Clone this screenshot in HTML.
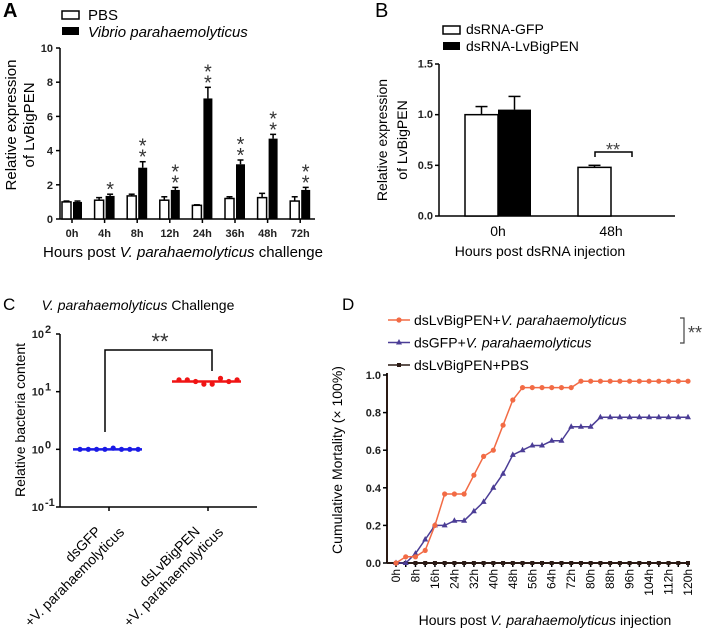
<!DOCTYPE html>
<html><head><meta charset="utf-8">
<style>
html,body{margin:0;padding:0;background:#fff;}
svg{display:block;font-family:"Liberation Sans",Arial,sans-serif;}
.tk{font-size:11px;font-weight:bold;fill:#222;}
</style></head>
<body>
<svg id="fig" width="714" height="632" viewBox="0 0 714 632"></svg>
<script>
// ---- Panel A data ----
const aCats=['0h','4h','8h','12h','24h','36h','48h','72h'];
const aPBS=[1.0,1.1,1.35,1.1,0.8,1.2,1.25,1.05];
const aPBSErr=[0.05,0.15,0.1,0.2,0.03,0.1,0.25,0.25];
const aVP=[1.0,1.35,3.0,1.7,7.05,3.2,4.7,1.7];
const aVPErr=[0.05,0.1,0.35,0.15,0.65,0.25,0.25,0.15];
const aStars=[0,1,2,2,2,2,2,2];
const aTicks=[0,2,4,6,8,10];
// ---- Panel B data ----
const bCats=['0h','48h'];
const bGFP=[1.0,0.48];
const bGFPErr=[0.08,0.02];
const bBig=[1.05,0.0];
const bBigErr=[0.13,0];
const bTicks=[0,0.5,1.0,1.5];
// ---- Panel C data ----
const cGroups=['dsGFP','dsLvBigPEN'];
const cMeans=[1.0,15];
const cGFPPts=[1.0,1.0,1.0,1.0,1.05,1.0,1.0,1.0];
const cBigPts=[16,16,15,13.5,13.5,17,15,16];
const cTickExp=[-1,0,1,2];
// ---- Panel D data ----
const dHours=[0,4,8,12,16,20,24,28,32,36,40,44,48,52,56,60,64,68,72,76,80,84,88,92,96,100,104,108,112,116,120];
const dOrange=[0,0.033,0.033,0.067,0.2,0.367,0.367,0.367,0.467,0.567,0.6,0.733,0.867,0.933,0.933,0.933,0.933,0.933,0.933,0.967,0.967,0.967,0.967,0.967,0.967,0.967,0.967,0.967,0.967,0.967,0.967];
const dBlue=[0,0,0.05,0.125,0.2,0.2,0.225,0.225,0.275,0.325,0.4,0.475,0.575,0.6,0.625,0.625,0.65,0.65,0.725,0.725,0.725,0.775,0.775,0.775,0.775,0.775,0.775,0.775,0.775,0.775,0.775];
const dBlack=[0,0,0,0,0,0,0,0,0,0,0,0,0,0,0,0,0,0,0,0,0,0,0,0,0,0,0,0,0,0,0];
const dTicks=[0,0.2,0.4,0.6,0.8,1.0];

const NS='http://www.w3.org/2000/svg';
const svg=document.getElementById('fig');
function el(tag,attrs,parent,txt){const e=document.createElementNS(NS,tag);for(const k in attrs)e.setAttribute(k,attrs[k]);if(txt!==undefined)e.textContent=txt;(parent||svg).appendChild(e);return e;}
function grp(name){const g=el('g',{});return g;}

// ================= Panel A =================
(function(){
const g=grp('panel-a');
const x0=60,x1=315,yb=219,yt=48;
const y=v=>yb-(v/10)*(yb-yt);
const cx=i=>72+i*32.6;
const bw=9;
el('text',{x:3,y:17,'font-size':20,'font-weight':'bold'},g,'A');
const l1=el('rect',{x:62,y:11,width:17,height:8,fill:'#fff',stroke:'#000','stroke-width':1.5},g);

el('text',{x:88,y:20,'font-size':15},g,'PBS');
const l2=el('rect',{x:62,y:27,width:17,height:8,fill:'#000'},g);

el('text',{x:88,y:37,'font-size':15,'font-style':'italic'},g,'Vibrio parahaemolyticus');
el('line',{x1:x0,y1:yt,x2:x0,y2:yb,stroke:'#000','stroke-width':1.5},g);
el('line',{x1:x0,y1:yb,x2:x1,y2:yb,stroke:'#000','stroke-width':1.5},g);
aTicks.forEach(t=>{el('line',{x1:x0-4,y1:y(t),x2:x0,y2:y(t),stroke:'#000','stroke-width':1.5},g);
 el('text',{x:x0-7,y:y(t)+4,'text-anchor':'end',class:'tk','font-size':12},g,String(t));});
aCats.forEach((c,i)=>{
 const c0=cx(i);
 el('line',{x1:c0,y1:yb,x2:c0,y2:yb+4,stroke:'#000','stroke-width':1.5},g);
 el('text',{x:c0,y:yb+18,'text-anchor':'middle',class:'tk','font-size':12},g,c);
 const p=el('rect',{x:c0-bw-1,y:y(aPBS[i]),width:bw,height:yb-y(aPBS[i]),fill:'#fff',stroke:'#000','stroke-width':1.5},g);
 
 el('line',{x1:c0-bw/2-1,y1:y(aPBS[i]),x2:c0-bw/2-1,y2:y(aPBS[i]+aPBSErr[i]),stroke:'#000','stroke-width':1.5},g);
 el('line',{x1:c0-bw/2-4,y1:y(aPBS[i]+aPBSErr[i]),x2:c0-bw/2+2,y2:y(aPBS[i]+aPBSErr[i]),stroke:'#000','stroke-width':1.5},g);
 const v=el('rect',{x:c0+1,y:y(aVP[i]),width:bw,height:yb-y(aVP[i]),fill:'#000'},g);
 
 const ex=c0+1+bw/2, et=y(aVP[i]+aVPErr[i]);
 el('line',{x1:ex,y1:y(aVP[i]),x2:ex,y2:et,stroke:'#000','stroke-width':1.5},g);
 el('line',{x1:ex-3,y1:et,x2:ex+3,y2:et,stroke:'#000','stroke-width':1.5},g);
 for(let s=0;s<aStars[i];s++) el('text',{x:ex,y:et+2-s*11,'text-anchor':'middle','font-size':20,fill:'#333'},g,'*');
});
const yl=el('text',{transform:'translate(16,125) rotate(-90)','text-anchor':'middle','font-size':15},g);
el('tspan',{x:0,dy:0},yl,'Relative expression');el('tspan',{x:0,dy:18},yl,'of LvBigPEN');
const xl=el('text',{x:183,y:257,'text-anchor':'middle','font-size':15},g);
el('tspan',{},xl,'Hours post ');el('tspan',{'font-style':'italic'},xl,'V. parahaemolyticus');el('tspan',{},xl,' challenge');
})();

// ================= Panel B =================
(function(){
const g=grp('panel-b');
const x0=439,x1=675,yb=216,yt=64;
const y=v=>yb-(v/1.5)*(yb-yt);
const gx=[482,595];const bw=33;
el('text',{x:375,y:17,'font-size':20},g,'B');
const l1=el('rect',{x:443,y:26,width:17,height:8,fill:'#fff',stroke:'#000','stroke-width':1.5},g);

el('text',{x:466,y:34,'font-size':14},g,'dsRNA-GFP');
const l2=el('rect',{x:443,y:42,width:17,height:8,fill:'#000'},g);

el('text',{x:466,y:51,'font-size':14},g,'dsRNA-LvBigPEN');
el('line',{x1:x0,y1:yt,x2:x0,y2:yb,stroke:'#000','stroke-width':1.5},g);
el('line',{x1:x0,y1:yb,x2:x1,y2:yb,stroke:'#000','stroke-width':1.5},g);
bTicks.forEach(t=>{el('line',{x1:x0-4,y1:y(t),x2:x0,y2:y(t),stroke:'#000','stroke-width':1.5},g);
 el('text',{x:x0-6,y:y(t)+3.5,'text-anchor':'end',class:'tk','font-size':10},g,t.toFixed(1));});
bCats.forEach((c,i)=>{
 const c0=gx[i]+16;
 el('text',{x:c0,y:236,'text-anchor':'middle','font-size':14},g,c);
 const a=el('rect',{x:c0-bw,y:y(bGFP[i]),width:bw,height:yb-y(bGFP[i]),fill:'#fff',stroke:'#000','stroke-width':1.5},g);
 
 const et=y(bGFP[i]+bGFPErr[i]);
 el('line',{x1:c0-bw/2,y1:y(bGFP[i]),x2:c0-bw/2,y2:et,stroke:'#000','stroke-width':1.5},g);
 el('line',{x1:c0-bw/2-6,y1:et,x2:c0-bw/2+6,y2:et,stroke:'#000','stroke-width':1.5},g);
 const b=el('rect',{x:c0,y:y(bBig[i]),width:bw,height:Math.max(0,yb-y(bBig[i])),fill:'#000'},g);
 
 if(bBigErr[i]>0){const e2=y(bBig[i]+bBigErr[i]);
 el('line',{x1:c0+bw/2,y1:y(bBig[i]),x2:c0+bw/2,y2:e2,stroke:'#000','stroke-width':1.5},g);
 el('line',{x1:c0+bw/2-6,y1:e2,x2:c0+bw/2+6,y2:e2,stroke:'#000','stroke-width':1.5},g);}
});
el('path',{d:'M595 157 V152 H632 V157',fill:'none',stroke:'#000','stroke-width':1.5},g);
el('text',{x:613,y:156,'text-anchor':'middle','font-size':18,fill:'#444'},g,'**');
const yl=el('text',{transform:'translate(387,140) rotate(-90)','text-anchor':'middle','font-size':14},g);
el('tspan',{x:0,dy:0},yl,'Relative expression');el('tspan',{x:0,dy:20},yl,'of LvBigPEN');
el('text',{x:540,y:256,'text-anchor':'middle','font-size':14},g,'Hours post dsRNA injection');
})();

// ================= Panel C =================
(function(){
const g=grp('panel-c');
const x0=60,x1=257,yTop=334,yBot=507;
const y=v=>yBot-(Math.log10(v)+1)/3*(yBot-yTop);
const gx=[109,208];
el('text',{x:3,y:310,'font-size':17},g,'C');
const t=el('text',{x:138,y:310,'text-anchor':'middle','font-size':14},g);
el('tspan',{'font-style':'italic'},t,'V. parahaemolyticus');el('tspan',{},t,' Challenge');
el('line',{x1:x0,y1:yTop,x2:x0,y2:yBot,stroke:'#000','stroke-width':1.5},g);
el('line',{x1:x0,y1:yBot,x2:x1,y2:yBot,stroke:'#000','stroke-width':1.5},g);
cTickExp.forEach(e=>{const yy=y(Math.pow(10,e));
 el('line',{x1:x0-4,y1:yy,x2:x0,y2:yy,stroke:'#000','stroke-width':1.5},g);
 el('text',{x:x0-16,y:yy+4,'text-anchor':'end',class:'tk','font-size':11},g,'10');
 el('text',{x:x0-15,y:yy-1,'text-anchor':'start',class:'tk','font-size':7},g,String(e));});
const cols=['#1a1ae6','#f01414'];
const pts=[cGFPPts,cBigPts];
cGroups.forEach((c,i)=>{
 el('line',{x1:gx[i],y1:yBot,x2:gx[i],y2:yBot+4,stroke:'#000','stroke-width':1.5},g);
 const lt=el('text',{transform:`translate(${gx[i]+4},${yBot+14}) rotate(-45)`,'text-anchor':'end','font-size':14},g);
 el('tspan',{x:-16,dy:0},lt,c);el('tspan',{x:0,dy:17},lt,'+V. parahaemolyticus');
 const m=el('line',{x1:gx[i]-36,y1:y(cMeans[i]),x2:gx[i]+33,y2:y(cMeans[i]),stroke:cols[i],'stroke-width':2.5},g);
 
 pts[i].forEach((v,j)=>{const d=el('circle',{cx:gx[i]-29+j*8.3,cy:y(v),r:2.6,fill:cols[i]},g);
  });
});
el('path',{d:`M105 432 V350 H212 V371`,fill:'none',stroke:'#000','stroke-width':1.5},g);
el('text',{x:160,y:349,'text-anchor':'middle','font-size':22,fill:'#333'},g,'**');
el('text',{transform:'translate(25,420) rotate(-90)','text-anchor':'middle','font-size':14},g,'Relative bacteria content');
})();

// ================= Panel D =================
(function(){
const g=grp('panel-d');
const x0=387,x1=690,yb=563,yt=375;
const y=v=>yb-v*(yb-yt);
const x=h=>396+h/120*(688-396);
el('text',{x:342,y:310,'font-size':17},g,'D');
el('line',{x1:x0,y1:yt-2,x2:x0,y2:yb,stroke:'#2a1a14','stroke-width':2},g);
el('line',{x1:x0,y1:yb,x2:x1,y2:yb,stroke:'#2a1a14','stroke-width':2},g);
dTicks.forEach(t=>{el('line',{x1:x0-4,y1:y(t),x2:x0,y2:y(t),stroke:'#000','stroke-width':1.5},g);
 el('text',{x:x0-6,y:y(t)+4,'text-anchor':'end',class:'tk','font-size':12},g,t.toFixed(1));});
dHours.forEach((h,i)=>{el('line',{x1:x(h),y1:yb,x2:x(h),y2:yb+4,stroke:'#000','stroke-width':1.5},g);
 if(h%8===0) el('text',{transform:`translate(${x(h)+4},${yb+6}) rotate(-90)`,'text-anchor':'end','font-size':12},g,h+'h');});
function series(data,col,shape,name){
 const pl=el('polyline',{points:data.map((v,i)=>x(dHours[i])+','+y(v)).join(' '),fill:'none',stroke:col,'stroke-width':1.5},g);
 
 data.forEach((v,i)=>{const px=x(dHours[i]),py=y(v);let m;
  if(shape==='c') m=el('circle',{cx:px,cy:py,r:2.6,fill:col},g);
  else if(shape==='t') m=el('polygon',{points:`${px},${py-3.5} ${px-3},${py+2} ${px+3},${py+2}`,fill:col},g);
  else m=el('rect',{x:px-2,y:py-2,width:4,height:4,fill:col},g);
  });
}
series(dBlack,'#2a1a14','s','dslvbigpen-pbs');
series(dBlue,'#4b3d96','t','dsgfp-vibrio');
series(dOrange,'#f26b45','c','dslvbigpen-vibrio');
const leg=[['#f26b45','c','dsLvBigPEN+','V. parahaemolyticus'],['#4b3d96','t','dsGFP+','V. parahaemolyticus'],['#2a1a14','s','dsLvBigPEN+PBS','']];
leg.forEach((L,i)=>{const ly=320+i*22.5;
 el('line',{x1:388,y1:ly,x2:410,y2:ly,stroke:L[0],'stroke-width':1.5},g);
 if(L[1]==='c') el('circle',{cx:399,cy:ly,r:2.6,fill:L[0]},g);
 else if(L[1]==='t') el('polygon',{points:`399,${ly-3.5} 396,${ly+2} 402,${ly+2}`,fill:L[0]},g);
 else el('rect',{x:397,y:ly-2,width:4,height:4,fill:L[0]},g);
 const t=el('text',{x:414,y:ly+5,'font-size':14},g);
 
 el('tspan',{},t,L[2]);if(L[3])el('tspan',{'font-style':'italic'},t,L[3]);});
el('path',{d:'M680 318 H684 V343 H680',fill:'none',stroke:'#444','stroke-width':1.2},g);
el('text',{x:688,y:339,'font-size':18,fill:'#444'},g,'**');
el('text',{transform:'translate(342,460) rotate(-90)','text-anchor':'middle','font-size':14},g,'Cumulative Mortality (× 100%)');
const xl=el('text',{x:545,y:625,'text-anchor':'middle','font-size':14},g);
el('tspan',{},xl,'Hours post ');el('tspan',{'font-style':'italic'},xl,'V. parahaemolyticus');el('tspan',{},xl,' injection');
})();
</script>
</body></html>
